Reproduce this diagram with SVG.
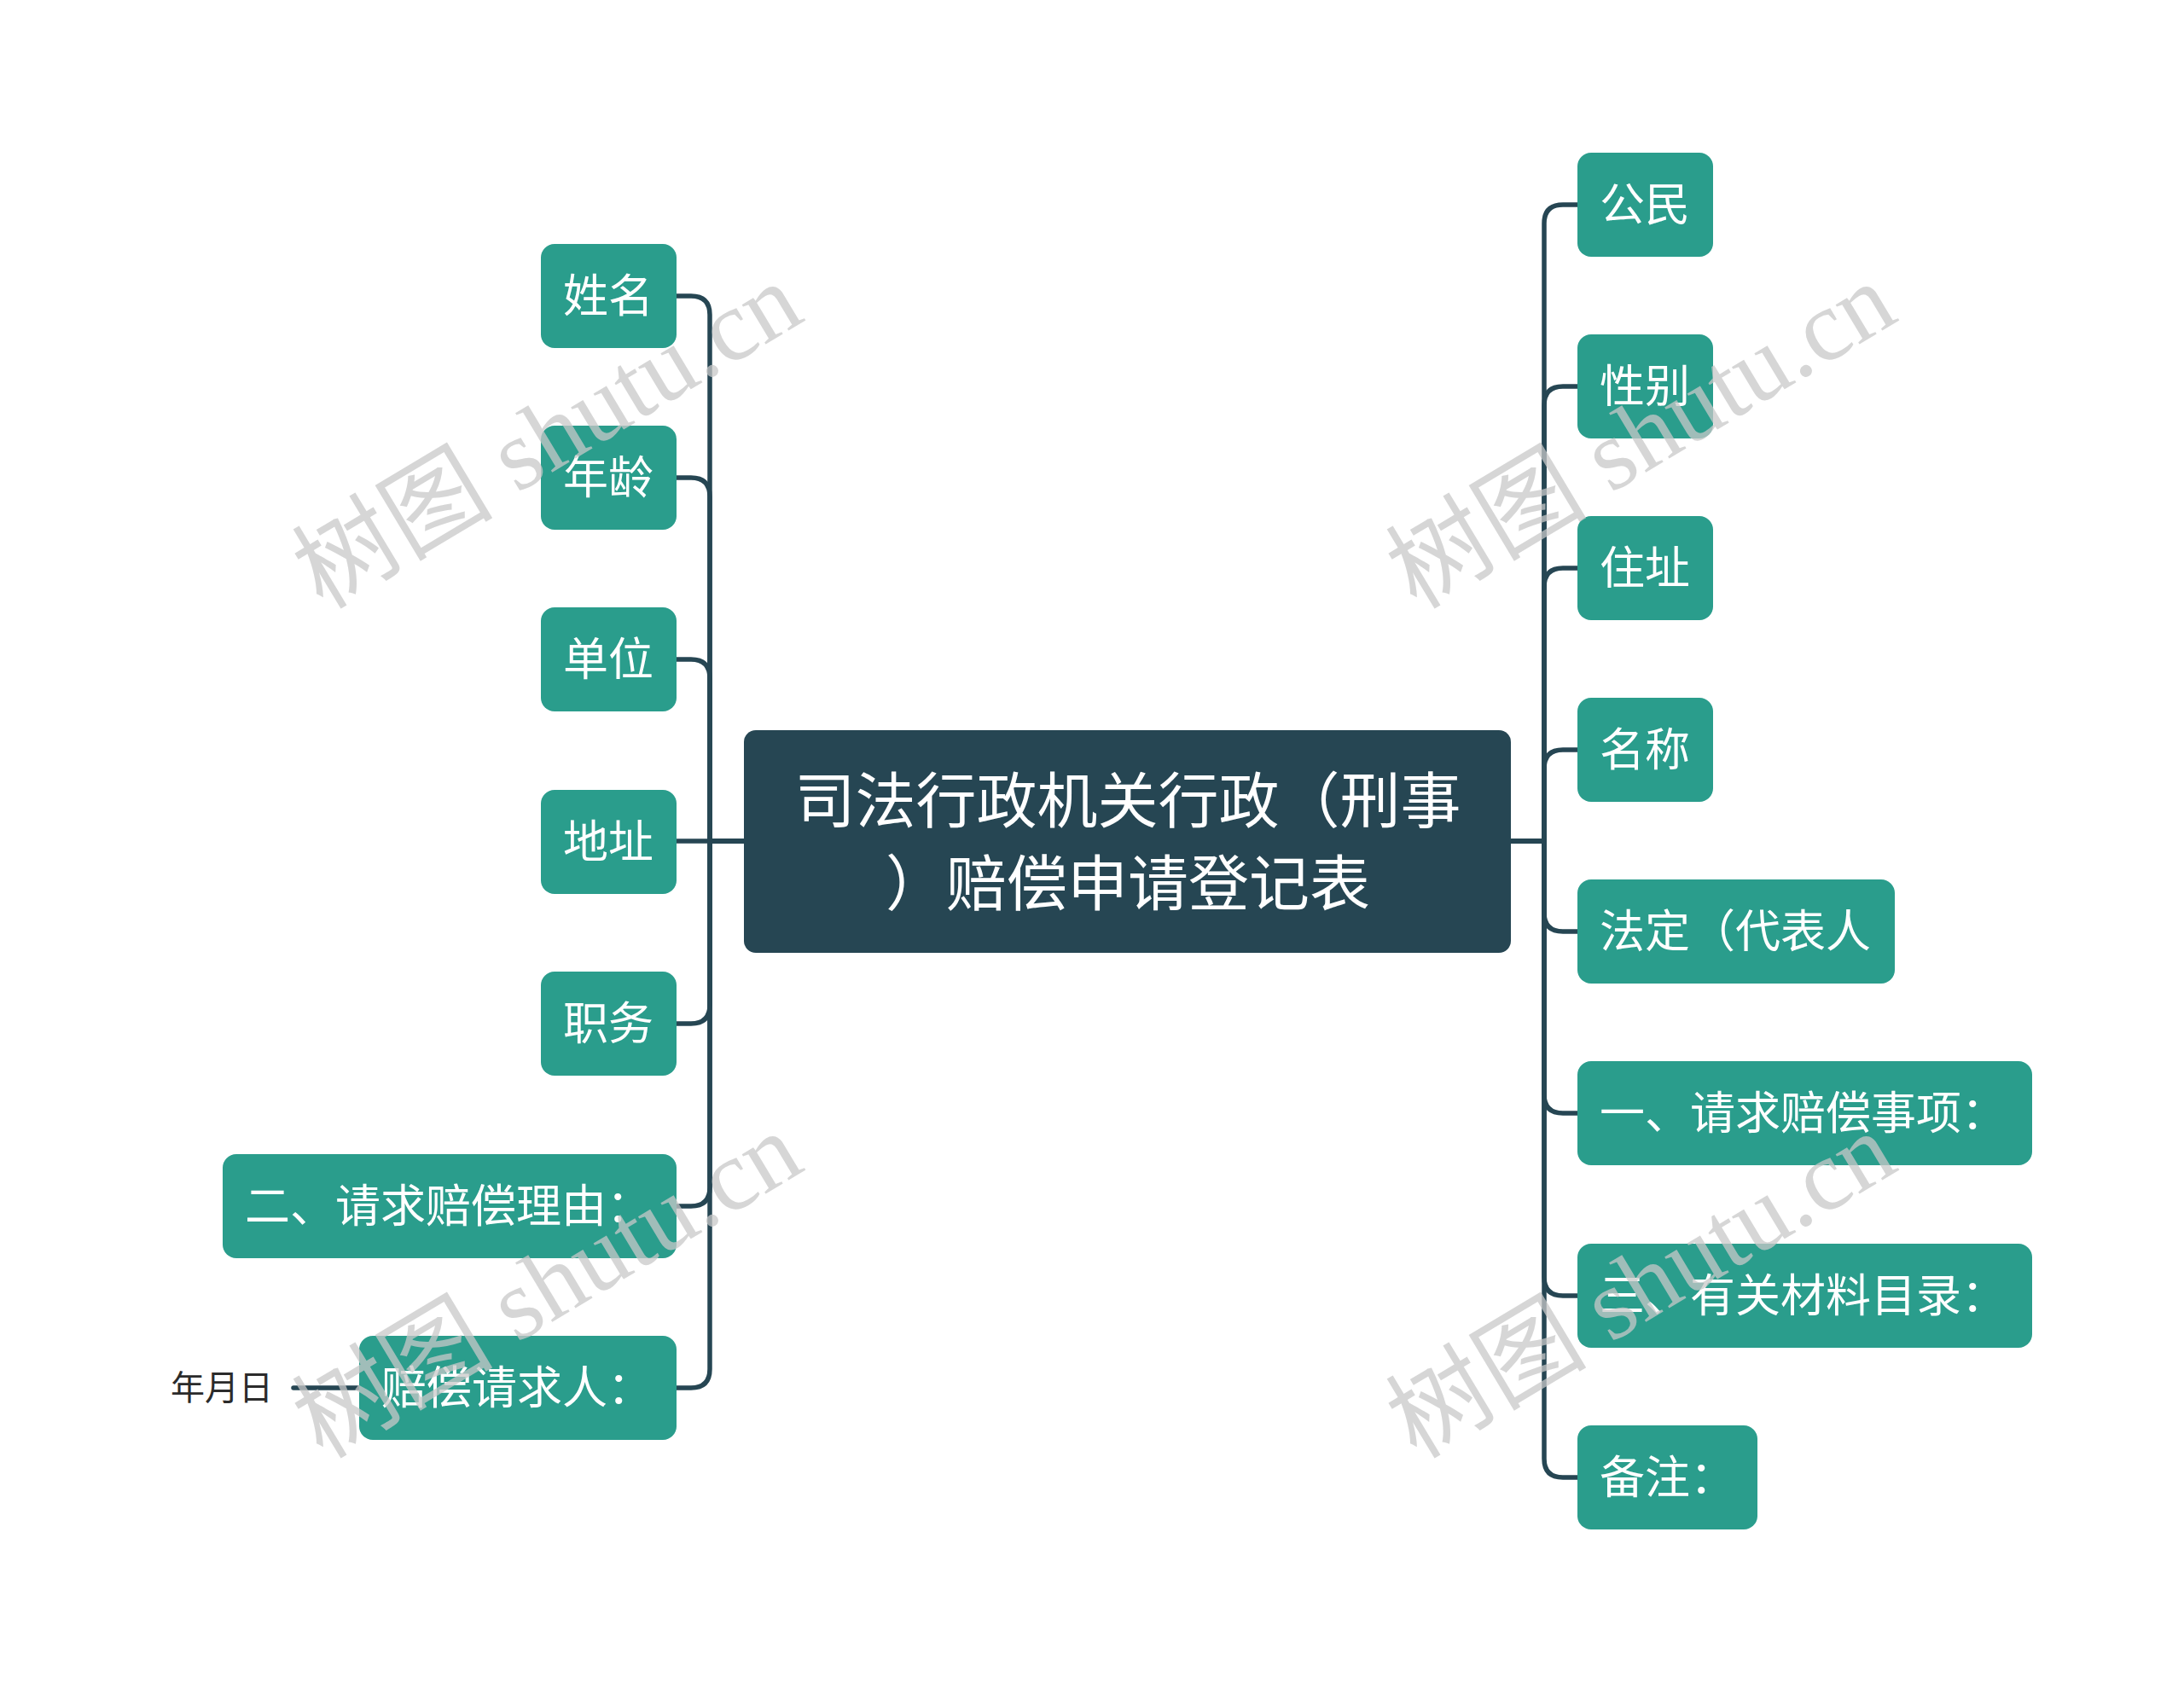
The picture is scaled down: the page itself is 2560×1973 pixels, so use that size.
<svg xmlns="http://www.w3.org/2000/svg" width="2560" height="1973" viewBox="0 0 2560 1973">
<style>
.node{fill:#2a9d8c}
.root{fill:#264653}
.t{font-family:"Noto Sans CJK SC","Noto Sans",sans-serif;font-size:53px;fill:#ffffff}
.rt{font-family:"Noto Sans CJK SC","Noto Sans",sans-serif;font-size:71px;fill:#ffffff;text-anchor:middle}
.lbl{font-family:"Noto Sans CJK SC","Noto Sans",sans-serif;font-size:40px;fill:#2b2b2b}
.c{fill:none;stroke:#264653;stroke-width:5.5;stroke-linecap:round}
.wm{font-family:"Liberation Serif","Noto Sans CJK SC",serif;font-size:118px;fill:#c8c8c8;fill-opacity:0.75;text-anchor:middle}
</style>
<rect width="2560" height="1973" fill="#ffffff"/>
<g id="connectors">
<path class="c" d="M872 986H832V369Q832 347 810 347H793"/>
<path class="c" d="M872 986H832V582Q832 560 810 560H793"/>
<path class="c" d="M872 986H832V795Q832 773 810 773H793"/>
<path class="c" d="M872 986H793"/>
<path class="c" d="M872 986H832V1178Q832 1200 810 1200H793"/>
<path class="c" d="M872 986H832V1392Q832 1414 810 1414H793"/>
<path class="c" d="M872 986H832V1605Q832 1627 810 1627H793"/>
<path class="c" d="M421 1627H344"/>
<path class="c" d="M1771 986H1810V262Q1810 240 1832 240H1849"/>
<path class="c" d="M1771 986H1810V475Q1810 453 1832 453H1849"/>
<path class="c" d="M1771 986H1810V688Q1810 666 1832 666H1849"/>
<path class="c" d="M1771 986H1810V901Q1810 879 1832 879H1849"/>
<path class="c" d="M1771 986H1810V1070Q1810 1092 1832 1092H1849"/>
<path class="c" d="M1771 986H1810V1283Q1810 1305 1832 1305H1849"/>
<path class="c" d="M1771 986H1810V1497Q1810 1519 1832 1519H1849"/>
<path class="c" d="M1771 986H1810V1710Q1810 1732 1832 1732H1849"/>
</g>
<g id="root">
<rect class="root" x="872" y="856" width="899" height="261" rx="14"/>
<text class="rt" x="1322" y="964">司法行政机关行政（刑事</text>
<text class="rt" x="1322" y="1061">）赔偿申请登记表</text>
</g>
<g id="n-xingming"><rect class="node" x="634" y="286" width="159" height="122" rx="16"/><text class="t" x="660" y="366">姓名</text></g>
<g id="n-nianling"><rect class="node" x="634" y="499" width="159" height="122" rx="16"/><text class="t" x="660" y="579">年龄</text></g>
<g id="n-danwei"><rect class="node" x="634" y="712" width="159" height="122" rx="16"/><text class="t" x="660" y="792">单位</text></g>
<g id="n-dizhi"><rect class="node" x="634" y="926" width="159" height="122" rx="16"/><text class="t" x="660" y="1006">地址</text></g>
<g id="n-zhiwu"><rect class="node" x="634" y="1139" width="159" height="122" rx="16"/><text class="t" x="660" y="1219">职务</text></g>
<g id="n-liyou"><rect class="node" x="261" y="1353" width="532" height="122" rx="16"/><text class="t" x="287" y="1433">二、请求赔偿理由：</text></g>
<g id="n-qingqiuren"><rect class="node" x="421" y="1566" width="372" height="122" rx="16"/><text class="t" x="447" y="1646">赔偿请求人：</text></g>
<g id="n-nianyueri"><text class="lbl" x="200" y="1641">年月日</text></g>
<g id="n-gongmin"><rect class="node" x="1849" y="179" width="159" height="122" rx="16"/><text class="t" x="1875" y="259">公民</text></g>
<g id="n-xingbie"><rect class="node" x="1849" y="392" width="159" height="122" rx="16"/><text class="t" x="1875" y="472">性别</text></g>
<g id="n-zhuzhi"><rect class="node" x="1849" y="605" width="159" height="122" rx="16"/><text class="t" x="1875" y="685">住址</text></g>
<g id="n-mingcheng"><rect class="node" x="1849" y="818" width="159" height="122" rx="16"/><text class="t" x="1875" y="898">名称</text></g>
<g id="n-fading"><rect class="node" x="1849" y="1031" width="372" height="122" rx="16"/><text class="t" x="1875" y="1111">法定（代表人</text></g>
<g id="n-shixiang"><rect class="node" x="1849" y="1244" width="533" height="122" rx="16"/><text class="t" x="1875" y="1324">一、请求赔偿事项：</text></g>
<g id="n-cailiao"><rect class="node" x="1849" y="1458" width="533" height="122" rx="16"/><text class="t" x="1875" y="1538">三、有关材料目录：</text></g>
<g id="n-beizhu"><rect class="node" x="1849" y="1671" width="211" height="122" rx="16"/><text class="t" x="1875" y="1751">备注：</text></g>
<g id="watermarks">
<text class="wm" transform="translate(662 545) rotate(-31)">树图 shutu.cn</text>
<text class="wm" transform="translate(1944 545) rotate(-31)">树图 shutu.cn</text>
<text class="wm" transform="translate(662 1541) rotate(-31)">树图 shutu.cn</text>
<text class="wm" transform="translate(1944 1541) rotate(-31)">树图 shutu.cn</text>
</g>
</svg>
